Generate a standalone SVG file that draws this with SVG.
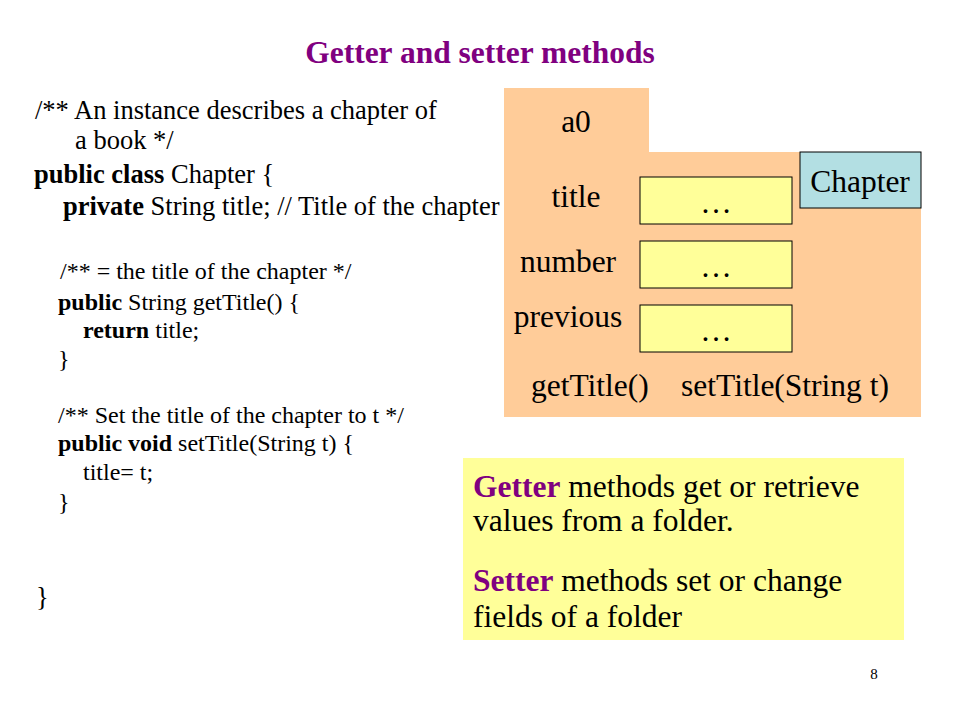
<svg xmlns="http://www.w3.org/2000/svg" width="960" height="720" viewBox="0 0 960 720">
<style>
text{font-family:"Liberation Serif","Times New Roman",serif;fill:#000}
.code1{font-size:26.5px}
.code2{font-size:24px}
.big{font-size:31.5px}
.note{font-size:31.5px}
.purple{fill:#800080;font-weight:bold}
.field{fill:#ffff99;stroke:#000;stroke-width:1}
</style>
<rect width="960" height="720" fill="#fff"/>
<text x="480" y="63" text-anchor="middle" class="purple" style="font-size:31.5px">Getter and setter methods</text>
<g id="code">
<text class="code1" x="35" y="119">/** An instance describes a chapter of</text>
<text class="code1" x="75" y="149">a book */</text>
<text class="code1" x="34" y="183"><tspan font-weight="bold">public class</tspan> Chapter {</text>
<text class="code1" x="63" y="215"><tspan font-weight="bold">private</tspan> String title; // Title of the chapter</text>
<text class="code2" x="60" y="279">/** = the title of the chapter */</text>
<text class="code2" x="58" y="310"><tspan font-weight="bold">public</tspan> String getTitle() {</text>
<text class="code2" x="83" y="338"><tspan font-weight="bold">return</tspan> title;</text>
<text class="code2" x="58" y="367">}</text>
<text class="code2" x="58" y="423">/** Set the title of the chapter to t */</text>
<text class="code2" x="58" y="451"><tspan font-weight="bold">public void</tspan> setTitle(String t) {</text>
<text class="code2" x="83" y="480">title= t;</text>
<text class="code2" x="58" y="510">}</text>
<text class="code1" x="36" y="606">}</text>
</g>
<g id="folder">
<path d="M504 88 H649 V152 H921 V417 H504 Z" fill="#ffcc99"/>
<text class="big" x="576" y="132" text-anchor="middle">a0</text>
<text class="big" x="576" y="207" text-anchor="middle">title</text>
<text class="big" x="568" y="272" text-anchor="middle">number</text>
<text class="big" x="568" y="327" text-anchor="middle">previous</text>
<text class="big" x="531" y="396">getTitle()</text>
<text class="big" x="681" y="396">setTitle(String t)</text>
</g>
<g id="class-label">
<rect x="800" y="152" width="121" height="56" fill="#b3dfe3" stroke="#000" stroke-width="1"/>
<text class="big" x="860" y="192" text-anchor="middle">Chapter</text>
</g>
<g id="field-title">
<rect class="field" x="640" y="177" width="152" height="47"/>
<text class="big" x="716" y="213" text-anchor="middle">…</text>
</g>
<g id="field-number">
<rect class="field" x="640" y="241" width="152" height="47"/>
<text class="big" x="716" y="277" text-anchor="middle">…</text>
</g>
<g id="field-previous">
<rect class="field" x="640" y="305" width="152" height="47"/>
<text class="big" x="716" y="341" text-anchor="middle">…</text>
</g>
<g id="note">
<rect x="463" y="458" width="441" height="182" fill="#ffff99"/>
<text class="note" x="473" y="497"><tspan class="purple">Getter</tspan> methods get or retrieve</text>
<text class="note" x="473" y="531">values from a folder.</text>
<text class="note" x="473" y="591"><tspan class="purple">Setter</tspan> methods set or change</text>
<text class="note" x="473" y="627">fields of a folder</text>
</g>
<text x="874" y="679" style="font-size:15px" text-anchor="middle">8</text>
</svg>
